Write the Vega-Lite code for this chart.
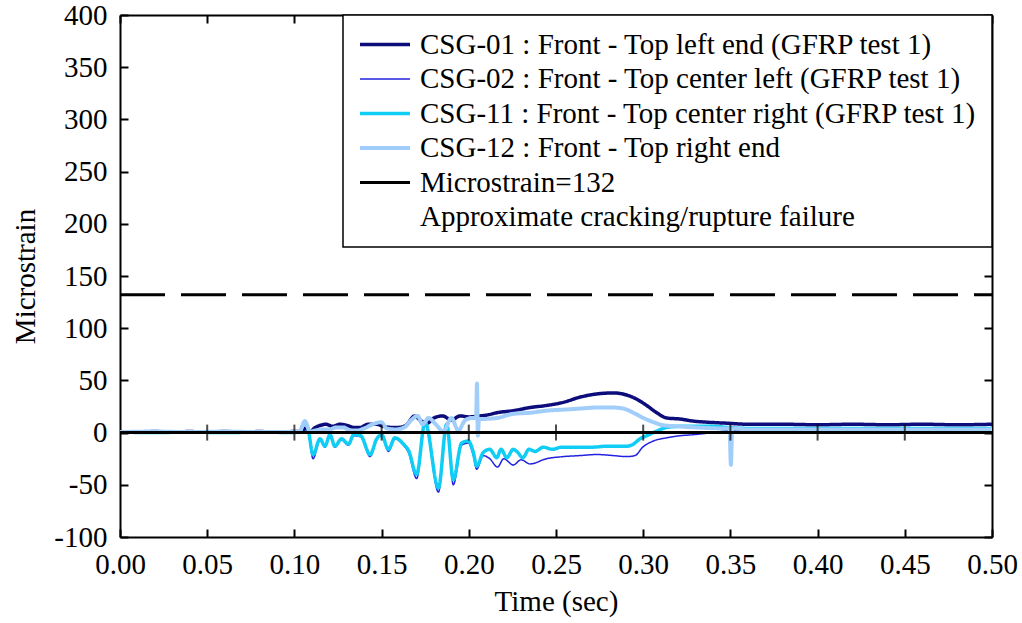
{
 "$schema": "https://vega.github.io/schema/vega-lite/v6.json",
 "width": 872, "height": 522,
 "autosize": {"type": "none"},
 "padding": {"left": 120, "top": 15, "right": 30, "bottom": 86},
 "background": "white",
 "config": {
  "font": "Liberation Serif",
  "view": {"stroke": null},
  "axis": {"labelFont": "Liberation Serif", "labelFontSize": 29, "labelColor": "black", "titleFont": "Liberation Serif", "titleFontSize": 29, "titleFontWeight": "normal", "titleColor": "black", "domainColor": "black", "domainWidth": 2, "tickColor": "black", "tickWidth": 2, "tickSize": -8, "grid": false, "labelPadding": 21},
  "legend": {"orient": "top-right", "offset": 0, "padding": 15, "strokeColor": "black", "strokeWidth": 1.5, "fillColor": "white", "labelFont": "Liberation Serif", "labelFontSize": 29, "labelColor": "black", "labelLimit": 1000, "symbolType": "stroke", "symbolSize": 2500, "labelOffset": 8, "rowPadding": 4.5, "clipHeight": 29}
 },
 "datasets": {
  "ticks": [{"t":0.05},{"t":0.1},{"t":0.15},{"t":0.2},{"t":0.25},{"t":0.3},{"t":0.35},{"t":0.4},{"t":0.45}],
  "strain": [
   {"s":"CSG-01","t":0,"v":1},{"s":"CSG-01","t":0.01,"v":0.5},{"s":"CSG-01","t":0.02,"v":1},{"s":"CSG-01","t":0.03,"v":0.5},{"s":"CSG-01","t":0.04,"v":1},{"s":"CSG-01","t":0.05,"v":0.5},{"s":"CSG-01","t":0.06,"v":1},{"s":"CSG-01","t":0.07,"v":0.5},{"s":"CSG-01","t":0.08,"v":1},{"s":"CSG-01","t":0.09,"v":0.5},{"s":"CSG-01","t":0.1,"v":1},{"s":"CSG-01","t":0.104,"v":1},{"s":"CSG-01","t":0.106,"v":4},{"s":"CSG-01","t":0.109,"v":1},{"s":"CSG-01","t":0.112,"v":5},{"s":"CSG-01","t":0.115,"v":7},{"s":"CSG-01","t":0.118,"v":8},{"s":"CSG-01","t":0.122,"v":6},{"s":"CSG-01","t":0.126,"v":8},{"s":"CSG-01","t":0.13,"v":7},{"s":"CSG-01","t":0.134,"v":5},{"s":"CSG-01","t":0.138,"v":5},{"s":"CSG-01","t":0.142,"v":8},{"s":"CSG-01","t":0.147,"v":8},{"s":"CSG-01","t":0.151,"v":6},{"s":"CSG-01","t":0.155,"v":5},{"s":"CSG-01","t":0.16,"v":5},{"s":"CSG-01","t":0.164,"v":7},{"s":"CSG-01","t":0.169,"v":16},{"s":"CSG-01","t":0.172,"v":12},{"s":"CSG-01","t":0.176,"v":9},{"s":"CSG-01","t":0.18,"v":14},{"s":"CSG-01","t":0.185,"v":16},{"s":"CSG-01","t":0.19,"v":12},{"s":"CSG-01","t":0.195,"v":16},{"s":"CSG-01","t":0.2,"v":15},{"s":"CSG-01","t":0.2064,"v":16},{"s":"CSG-01","t":0.211,"v":17},{"s":"CSG-01","t":0.216,"v":19},{"s":"CSG-01","t":0.2255,"v":21},{"s":"CSG-01","t":0.2351,"v":24},{"s":"CSG-01","t":0.2446,"v":26},{"s":"CSG-01","t":0.2542,"v":29},{"s":"CSG-01","t":0.2638,"v":34},{"s":"CSG-01","t":0.2733,"v":37},{"s":"CSG-01","t":0.2829,"v":38},{"s":"CSG-01","t":0.2905,"v":36},{"s":"CSG-01","t":0.2963,"v":32},{"s":"CSG-01","t":0.302,"v":26},{"s":"CSG-01","t":0.3078,"v":19},{"s":"CSG-01","t":0.3135,"v":14},{"s":"CSG-01","t":0.3211,"v":13},{"s":"CSG-01","t":0.3288,"v":11},{"s":"CSG-01","t":0.3364,"v":10},{"s":"CSG-01","t":0.348,"v":9},{"s":"CSG-01","t":0.36,"v":8},{"s":"CSG-01","t":0.38,"v":8},{"s":"CSG-01","t":0.4,"v":7.5},{"s":"CSG-01","t":0.42,"v":8},{"s":"CSG-01","t":0.44,"v":7.5},{"s":"CSG-01","t":0.46,"v":8},{"s":"CSG-01","t":0.48,"v":7.5},{"s":"CSG-01","t":0.5,"v":8},
   {"s":"CSG-02","t":0,"v":0},{"s":"CSG-02","t":0.01,"v":0.5},{"s":"CSG-02","t":0.02,"v":0},{"s":"CSG-02","t":0.03,"v":-0.5},{"s":"CSG-02","t":0.04,"v":0},{"s":"CSG-02","t":0.05,"v":0.5},{"s":"CSG-02","t":0.06,"v":0},{"s":"CSG-02","t":0.07,"v":-0.5},{"s":"CSG-02","t":0.08,"v":0},{"s":"CSG-02","t":0.09,"v":0.5},{"s":"CSG-02","t":0.1,"v":0},{"s":"CSG-02","t":0.103,"v":0},{"s":"CSG-02","t":0.106,"v":8},{"s":"CSG-02","t":0.108,"v":0},{"s":"CSG-02","t":0.1107,"v":-25},{"s":"CSG-02","t":0.1147,"v":-7},{"s":"CSG-02","t":0.1175,"v":-14},{"s":"CSG-02","t":0.1204,"v":-3},{"s":"CSG-02","t":0.1232,"v":-14},{"s":"CSG-02","t":0.127,"v":-7},{"s":"CSG-02","t":0.131,"v":-12},{"s":"CSG-02","t":0.134,"v":-3},{"s":"CSG-02","t":0.138,"v":-4},{"s":"CSG-02","t":0.1434,"v":-23},{"s":"CSG-02","t":0.1472,"v":-7},{"s":"CSG-02","t":0.15,"v":-3},{"s":"CSG-02","t":0.1539,"v":-18},{"s":"CSG-02","t":0.1577,"v":-6},{"s":"CSG-02","t":0.1625,"v":-12},{"s":"CSG-02","t":0.1654,"v":-19},{"s":"CSG-02","t":0.1701,"v":-44},{"s":"CSG-02","t":0.1749,"v":8},{"s":"CSG-02","t":0.1826,"v":-57},{"s":"CSG-02","t":0.1873,"v":6},{"s":"CSG-02","t":0.1911,"v":-50},{"s":"CSG-02","t":0.1959,"v":-12},{"s":"CSG-02","t":0.1997,"v":-10},{"s":"CSG-02","t":0.2026,"v":-22},{"s":"CSG-02","t":0.2045,"v":-35},{"s":"CSG-02","t":0.2083,"v":-22},{"s":"CSG-02","t":0.212,"v":-25},{"s":"CSG-02","t":0.2165,"v":-33},{"s":"CSG-02","t":0.22,"v":-25},{"s":"CSG-02","t":0.2255,"v":-31},{"s":"CSG-02","t":0.23,"v":-26},{"s":"CSG-02","t":0.2351,"v":-30},{"s":"CSG-02","t":0.2446,"v":-25},{"s":"CSG-02","t":0.2542,"v":-23},{"s":"CSG-02","t":0.2638,"v":-22},{"s":"CSG-02","t":0.2733,"v":-21},{"s":"CSG-02","t":0.2829,"v":-22},{"s":"CSG-02","t":0.2905,"v":-23},{"s":"CSG-02","t":0.2953,"v":-22},{"s":"CSG-02","t":0.2997,"v":-14},{"s":"CSG-02","t":0.3059,"v":-8},{"s":"CSG-02","t":0.3135,"v":-5},{"s":"CSG-02","t":0.3211,"v":-3},{"s":"CSG-02","t":0.3288,"v":-2},{"s":"CSG-02","t":0.34,"v":0},{"s":"CSG-02","t":0.348,"v":1.5},{"s":"CSG-02","t":0.36,"v":1.5},{"s":"CSG-02","t":0.38,"v":2},{"s":"CSG-02","t":0.4,"v":1.5},{"s":"CSG-02","t":0.42,"v":2},{"s":"CSG-02","t":0.44,"v":1.5},{"s":"CSG-02","t":0.46,"v":2},{"s":"CSG-02","t":0.48,"v":1.5},{"s":"CSG-02","t":0.5,"v":2},
   {"s":"CSG-11","t":0,"v":0.5},{"s":"CSG-11","t":0.02,"v":0},{"s":"CSG-11","t":0.04,"v":0.5},{"s":"CSG-11","t":0.06,"v":0},{"s":"CSG-11","t":0.08,"v":0.5},{"s":"CSG-11","t":0.1,"v":0},{"s":"CSG-11","t":0.103,"v":1},{"s":"CSG-11","t":0.106,"v":10},{"s":"CSG-11","t":0.108,"v":2},{"s":"CSG-11","t":0.1107,"v":-21},{"s":"CSG-11","t":0.1147,"v":-6},{"s":"CSG-11","t":0.1175,"v":-13},{"s":"CSG-11","t":0.1204,"v":-2},{"s":"CSG-11","t":0.1232,"v":-13},{"s":"CSG-11","t":0.127,"v":-6},{"s":"CSG-11","t":0.131,"v":-11},{"s":"CSG-11","t":0.134,"v":-2},{"s":"CSG-11","t":0.138,"v":-3},{"s":"CSG-11","t":0.1434,"v":-21},{"s":"CSG-11","t":0.1472,"v":-6},{"s":"CSG-11","t":0.15,"v":-2},{"s":"CSG-11","t":0.1539,"v":-16},{"s":"CSG-11","t":0.1577,"v":-5},{"s":"CSG-11","t":0.1625,"v":-11},{"s":"CSG-11","t":0.1654,"v":-17},{"s":"CSG-11","t":0.1701,"v":-40},{"s":"CSG-11","t":0.1749,"v":10},{"s":"CSG-11","t":0.1826,"v":-53},{"s":"CSG-11","t":0.1873,"v":8},{"s":"CSG-11","t":0.1911,"v":-45},{"s":"CSG-11","t":0.1959,"v":-10},{"s":"CSG-11","t":0.1997,"v":-8},{"s":"CSG-11","t":0.2026,"v":-19},{"s":"CSG-11","t":0.2045,"v":-32},{"s":"CSG-11","t":0.2083,"v":-19},{"s":"CSG-11","t":0.212,"v":-16},{"s":"CSG-11","t":0.216,"v":-24},{"s":"CSG-11","t":0.2185,"v":-16},{"s":"CSG-11","t":0.2218,"v":-24},{"s":"CSG-11","t":0.2255,"v":-16},{"s":"CSG-11","t":0.2275,"v":-18},{"s":"CSG-11","t":0.231,"v":-24},{"s":"CSG-11","t":0.2345,"v":-16},{"s":"CSG-11","t":0.238,"v":-18},{"s":"CSG-11","t":0.2427,"v":-14},{"s":"CSG-11","t":0.248,"v":-16},{"s":"CSG-11","t":0.253,"v":-14},{"s":"CSG-11","t":0.26,"v":-14},{"s":"CSG-11","t":0.27,"v":-14},{"s":"CSG-11","t":0.28,"v":-13},{"s":"CSG-11","t":0.2905,"v":-13},{"s":"CSG-11","t":0.2944,"v":-11},{"s":"CSG-11","t":0.2981,"v":-6},{"s":"CSG-11","t":0.302,"v":-3},{"s":"CSG-11","t":0.3078,"v":1.5},{"s":"CSG-11","t":0.3135,"v":5},{"s":"CSG-11","t":0.3211,"v":6},{"s":"CSG-11","t":0.33,"v":6},{"s":"CSG-11","t":0.34,"v":6},{"s":"CSG-11","t":0.348,"v":5},{"s":"CSG-11","t":0.36,"v":4},{"s":"CSG-11","t":0.38,"v":4},{"s":"CSG-11","t":0.4,"v":4},{"s":"CSG-11","t":0.42,"v":4},{"s":"CSG-11","t":0.44,"v":4},{"s":"CSG-11","t":0.46,"v":4},{"s":"CSG-11","t":0.48,"v":4},{"s":"CSG-11","t":0.5,"v":4},
   {"s":"CSG-12","t":0,"v":0.5},{"s":"CSG-12","t":0.02,"v":1},{"s":"CSG-12","t":0.04,"v":0.5},{"s":"CSG-12","t":0.06,"v":1},{"s":"CSG-12","t":0.08,"v":0.5},{"s":"CSG-12","t":0.1,"v":0.5},{"s":"CSG-12","t":0.103,"v":1},{"s":"CSG-12","t":0.106,"v":11},{"s":"CSG-12","t":0.109,"v":1},{"s":"CSG-12","t":0.112,"v":2},{"s":"CSG-12","t":0.116,"v":3},{"s":"CSG-12","t":0.12,"v":3},{"s":"CSG-12","t":0.124,"v":5},{"s":"CSG-12","t":0.128,"v":5},{"s":"CSG-12","t":0.132,"v":2},{"s":"CSG-12","t":0.136,"v":2},{"s":"CSG-12","t":0.14,"v":4},{"s":"CSG-12","t":0.145,"v":8},{"s":"CSG-12","t":0.1497,"v":10},{"s":"CSG-12","t":0.153,"v":4},{"s":"CSG-12","t":0.158,"v":3},{"s":"CSG-12","t":0.163,"v":5},{"s":"CSG-12","t":0.167,"v":12},{"s":"CSG-12","t":0.1706,"v":16},{"s":"CSG-12","t":0.1735,"v":8},{"s":"CSG-12","t":0.177,"v":14},{"s":"CSG-12","t":0.181,"v":8},{"s":"CSG-12","t":0.1855,"v":1},{"s":"CSG-12","t":0.19,"v":14},{"s":"CSG-12","t":0.194,"v":2},{"s":"CSG-12","t":0.198,"v":12},{"s":"CSG-12","t":0.202,"v":14},{"s":"CSG-12","t":0.2042,"v":14},{"s":"CSG-12","t":0.2047,"v":47},{"s":"CSG-12","t":0.2052,"v":-3},{"s":"CSG-12","t":0.2058,"v":13},{"s":"CSG-12","t":0.2064,"v":13},{"s":"CSG-12","t":0.216,"v":14},{"s":"CSG-12","t":0.2255,"v":18},{"s":"CSG-12","t":0.2351,"v":19},{"s":"CSG-12","t":0.2446,"v":21},{"s":"CSG-12","t":0.2542,"v":22},{"s":"CSG-12","t":0.2638,"v":23},{"s":"CSG-12","t":0.2733,"v":24},{"s":"CSG-12","t":0.2829,"v":24},{"s":"CSG-12","t":0.2887,"v":23},{"s":"CSG-12","t":0.2944,"v":19},{"s":"CSG-12","t":0.3001,"v":14},{"s":"CSG-12","t":0.3059,"v":10},{"s":"CSG-12","t":0.3116,"v":7},{"s":"CSG-12","t":0.32,"v":6},{"s":"CSG-12","t":0.33,"v":5},{"s":"CSG-12","t":0.345,"v":4},{"s":"CSG-12","t":0.3495,"v":4},{"s":"CSG-12","t":0.3503,"v":-31},{"s":"CSG-12","t":0.351,"v":4},{"s":"CSG-12","t":0.36,"v":3},{"s":"CSG-12","t":0.38,"v":3},{"s":"CSG-12","t":0.4,"v":3},{"s":"CSG-12","t":0.42,"v":3},{"s":"CSG-12","t":0.44,"v":3},{"s":"CSG-12","t":0.46,"v":3},{"s":"CSG-12","t":0.48,"v":3},{"s":"CSG-12","t":0.5,"v":3},
   {"s":"Microstrain=132","t":0,"v":132},{"s":"Microstrain=132","t":0.5,"v":132}
  ]
 },
 "layer": [
  {
   "data": {"name": "strain"},
   "mark": {"type": "line", "strokeJoin": "round", "interpolate": "monotone"},
   "encoding": {
    "x": {"field": "t", "type": "quantitative", "scale": {"domain": [0, 0.5], "nice": false, "zero": false},
     "axis": {"orient": "bottom", "values": [0, 0.05, 0.1, 0.15, 0.2, 0.25, 0.3, 0.35, 0.4, 0.45, 0.5], "format": ".2f", "title": "Time (sec)", "labelFlush": false, "labelOverlap": false, "titlePadding": 8}},
    "y": {"field": "v", "type": "quantitative", "scale": {"domain": [-100, 400], "nice": false},
     "axis": {"orient": "left", "values": [-100, -50, 0, 50, 100, 150, 200, 250, 300, 350, 400], "labelExpr": "toString(datum.value)", "title": "Microstrain", "labelOverlap": false, "titlePadding": 13}},
    "color": {"field": "s", "type": "nominal",
     "scale": {"domain": ["CSG-01", "CSG-02", "CSG-11", "CSG-12", "Microstrain=132", "Approximate cracking/rupture failure"], "range": ["#0c0c7a", "#2222e0", "#10cdf5", "#a0cdfa", "#000000", "transparent"]},
     "legend": {"title": null, "labelExpr": "datum.value == 'CSG-01' ? 'CSG-01 : Front - Top left end (GFRP test 1)' : datum.value == 'CSG-02' ? 'CSG-02 : Front - Top center left (GFRP test 1)' : datum.value == 'CSG-11' ? 'CSG-11 : Front - Top center right (GFRP test 1)' : datum.value == 'CSG-12' ? 'CSG-12 : Front - Top right end' : datum.label"}},
    "strokeWidth": {"field": "s", "type": "nominal",
     "scale": {"type": "ordinal", "domain": ["CSG-01", "CSG-02", "CSG-11", "CSG-12", "Microstrain=132", "Approximate cracking/rupture failure"], "range": [3.5, 1.5, 3.5, 4, 3, 0]},
     "legend": {"title": null, "labelExpr": "datum.value == 'CSG-01' ? 'CSG-01 : Front - Top left end (GFRP test 1)' : datum.value == 'CSG-02' ? 'CSG-02 : Front - Top center left (GFRP test 1)' : datum.value == 'CSG-11' ? 'CSG-11 : Front - Top center right (GFRP test 1)' : datum.value == 'CSG-12' ? 'CSG-12 : Front - Top right end' : datum.label"}},
    "strokeDash": {"condition": {"test": "datum.s !== 'Microstrain=132'", "value": [1, 0]}, "value": [45, 16]}
   }
  },
  {
   "data": {"name": "ticks"},
   "layer": [
    {
     "mark": {"type": "rule", "color": "black", "strokeWidth": 2},
     "encoding": {
      "y": {"datum": 0, "type": "quantitative", "scale": {"domain": [-100, 400], "nice": false},
       "axis": {"orient": "right", "labels": false, "title": null, "values": [-100, -50, 0, 50, 100, 150, 200, 250, 300, 350, 400]}}
     }
    },
    {
     "mark": {"type": "tick", "orient": "vertical", "color": "black", "size": 16, "thickness": 2},
     "encoding": {
      "x": {"field": "t", "type": "quantitative", "scale": {"domain": [0, 0.5], "nice": false, "zero": false},
       "axis": {"orient": "top", "labels": false, "title": null, "values": [0, 0.05, 0.1, 0.15, 0.2, 0.25, 0.3, 0.35, 0.4, 0.45, 0.5]}},
      "y": {"datum": 0, "type": "quantitative"}
     }
    }
   ]
  }
 ],
 "resolve": {"scale": {"x": "independent", "y": "independent"}}
}
